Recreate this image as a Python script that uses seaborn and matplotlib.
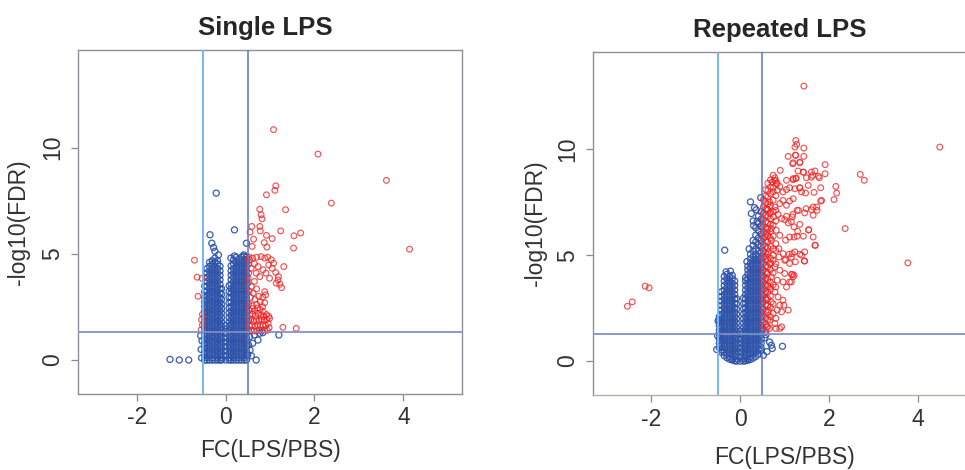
import matplotlib
matplotlib.use("Agg")
import matplotlib.pyplot as plt
import pandas as pd
import seaborn as sns

panel_titles = ["Single LPS", "Repeated LPS"]
x_label = "FC(LPS/PBS)"
y_label = "-log10(FDR)"
x_ticks = [-2, 0, 2, 4]
y_ticks = [0, 5, 10]
fc_cutoffs = [-0.5, 0.5]
fdr_cutoff = 1.3

# ---- Single LPS --------------------------------------------------------
# dense non-significant cloud, one fold-change column at a time
single_blue_cols = [-0.47, -0.42, -0.36, -0.30, -0.24, -0.18, -0.125, -0.09,
                    0.0, 0.08, 0.125, 0.18, 0.24, 0.30, 0.36, 0.42, 0.47]
single_blue_ys = [
    [0.0, 0.2, 0.41, 0.62, 0.83, 1.04, 1.25, 1.46, 1.67, 1.88, 2.09, 2.3, 2.52, 2.74, 2.96, 3.2, 3.48],
    [0.0, 0.11, 0.32, 0.53, 0.74, 0.95, 1.16, 1.37, 1.58, 1.79, 2.0, 2.21, 2.42, 2.63, 2.84, 3.05, 3.26, 3.47, 3.68, 3.89, 4.1, 4.3],
    [0.0, 0.21, 0.42, 0.63, 0.84, 1.05, 1.26, 1.47, 1.68, 1.89, 2.1, 2.31, 2.52, 2.73, 2.94, 3.15, 3.36, 3.57, 3.78, 3.99, 4.2, 4.41, 4.6],
    [0.0, 0.1, 0.31, 0.52, 0.73, 0.94, 1.15, 1.36, 1.57, 1.78, 1.99, 2.2, 2.41, 2.62, 2.83, 3.04, 3.25, 3.46, 3.67, 3.88, 4.09, 4.3, 4.51, 4.68],
    [0.0, 0.21, 0.42, 0.63, 0.84, 1.05, 1.26, 1.47, 1.68, 1.89, 2.1, 2.31, 2.52, 2.73, 2.94, 3.15, 3.36, 3.57, 3.78, 3.99, 4.2, 4.41, 4.62, 4.8],
    [0.0, 0.11, 0.32, 0.53, 0.74, 0.95, 1.16, 1.37, 1.58, 1.79, 2.0, 2.21, 2.42, 2.63, 2.84, 3.05, 3.26, 3.47, 3.68, 3.89, 4.1, 4.31, 4.52, 4.68],
    [0.0, 0.21, 0.42, 0.63, 0.84, 1.05, 1.26, 1.47, 1.68, 1.89, 2.1, 2.31, 2.52, 2.73, 2.94, 3.15, 3.36, 3.57, 3.78, 3.99, 4.2, 4.42],
    [0.0, 0.11, 0.32, 0.53, 0.74, 0.95, 1.16, 1.37, 1.58, 1.79, 2.0, 2.21, 2.42, 2.63, 2.86, 3.1, 3.36],
    [0.0, 0.21, 0.42, 0.63, 0.84, 1.05, 1.26, 1.47, 1.62],
    [0.0, 0.11, 0.32, 0.53, 0.74, 0.95, 1.16, 1.37, 1.58, 1.79, 2.0, 2.22, 2.45, 2.7, 2.96, 3.22, 3.5],
    [0.0, 0.21, 0.42, 0.63, 0.84, 1.05, 1.26, 1.47, 1.68, 1.89, 2.1, 2.31, 2.52, 2.73, 2.94, 3.15, 3.36, 3.57, 3.78, 3.99, 4.2, 4.44],
    [0.0, 0.11, 0.32, 0.53, 0.74, 0.95, 1.16, 1.37, 1.58, 1.79, 2.0, 2.21, 2.42, 2.63, 2.84, 3.05, 3.26, 3.47, 3.68, 3.89, 4.1, 4.31, 4.52, 4.72],
    [0.0, 0.21, 0.42, 0.63, 0.84, 1.05, 1.26, 1.47, 1.68, 1.89, 2.1, 2.31, 2.52, 2.73, 2.94, 3.15, 3.36, 3.57, 3.78, 3.99, 4.2, 4.41, 4.62, 4.84],
    [0.0, 0.11, 0.32, 0.53, 0.74, 0.95, 1.16, 1.37, 1.58, 1.79, 2.0, 2.21, 2.42, 2.63, 2.84, 3.05, 3.26, 3.47, 3.68, 3.89, 4.1, 4.31, 4.52, 4.73],
    [0.0, 0.21, 0.42, 0.63, 0.84, 1.05, 1.26, 1.47, 1.68, 1.89, 2.1, 2.31, 2.52, 2.73, 2.94, 3.15, 3.36, 3.57, 3.78, 3.99, 4.2, 4.41, 4.62, 4.85],
    [0.0, 0.11, 0.32, 0.53, 0.74, 0.95, 1.16, 1.37, 1.58, 1.79, 2.0, 2.21, 2.42, 2.63, 2.84, 3.05, 3.26, 3.47, 3.68, 3.89, 4.1, 4.31, 4.52, 4.73, 4.88],
    [0.0, 0.21, 0.42, 0.63, 0.84, 1.05, 1.26, 1.47, 1.68, 1.89, 2.1, 2.31, 2.52, 2.73, 2.94, 3.15, 3.36, 3.57, 3.78, 3.99, 4.2, 4.41, 4.62, 4.84],
]
# scattered non-significant genes
single_blue_points = [
    (-1.25, 0.03), (-1.04, 0.0), (-0.83, 0.0), (0.69, 0.0), (1.2, 1.18),
    (-0.21, 7.86), (0.2, 6.13), (-0.35, 5.9), (-0.31, 5.5), (-0.27, 5.3),
    (-0.24, 5.12), (-0.16, 4.95), (0.12, 4.8), (0.2, 4.9), (0.41, 4.95),
    (0.47, 5.5), (-0.54, 0.1), (-0.55, 0.5), (-0.53, 0.9), (-0.56, 1.15),
    (0.54, 1.1), (0.65, 1.18), (0.77, 1.26), (0.84, 1.29), (0.73, 0.94),
    (0.61, 0.79), (0.55, 0.47), (0.5, 0.24), (0.58, 0.2), (0.52, 0.7),
]
# significant genes
single_red_points = [
    (1.08, 10.85), (2.08, 9.70), (3.62, 8.46), (2.38, 7.39), (4.14, 5.22),
    (1.13, 8.20), (1.11, 7.99), (0.92, 7.78), (0.77, 7.10), (1.35, 7.08),
    (0.80, 6.84), (0.82, 6.65), (0.59, 6.29), (0.77, 6.29), (0.78, 6.08),
    (0.55, 6.02), (1.24, 6.08), (1.54, 5.85), (1.69, 5.98), (0.92, 5.87),
    (1.05, 5.72), (0.63, 5.69), (0.87, 5.53), (0.93, 5.32), (0.60, 5.35),
    (1.53, 5.27), (-0.70, 4.70), (-0.64, 3.90), (-0.53, 3.85), (-0.62, 3.00),
    (-0.52, 2.15), (-0.54, 1.90), (-0.52, 1.65), (-0.55, 1.42), (1.29, 1.54),
    (1.59, 1.49), (1.31, 4.40), (1.18, 3.77), (1.22, 3.57), (1.26, 3.41),
    (0.88, 3.22), (0.90, 3.07), (0.88, 2.70), (0.83, 2.51),
    (0.54, 4.72), (0.61, 4.80), (0.70, 4.84), (0.80, 4.87), (0.88, 4.80),
    (0.95, 4.84), (1.03, 4.72), (1.08, 4.56), (0.97, 4.48), (1.05, 4.32),
    (1.13, 4.12), (1.19, 3.93), (1.14, 3.62), (0.99, 3.85), (0.91, 4.09),
    (0.84, 4.25), (0.73, 4.40), (0.65, 4.53), (0.58, 4.32), (0.69, 4.09),
    (0.77, 3.93), (0.65, 3.70), (0.58, 3.46), (0.50, 3.62), (0.51, 4.50),
    (0.52, 4.10), (0.51, 3.85), (0.53, 4.85),
    (0.53, 3.25), (0.62, 3.15), (0.70, 3.35), (0.56, 2.95), (0.66, 2.85),
    (0.75, 3.00), (0.52, 2.65), (0.60, 2.55), (0.70, 2.62), (0.78, 2.75),
    (0.84, 2.95),
    (0.52, 1.36), (0.58, 1.40), (0.64, 1.37), (0.70, 1.36), (0.76, 1.41),
    (0.82, 1.38), (0.88, 1.42), (0.94, 1.40), (0.98, 1.52),
    (0.54, 1.60), (0.60, 1.63), (0.66, 1.58), (0.72, 1.66), (0.78, 1.60),
    (0.84, 1.65), (0.90, 1.62), (0.96, 1.72),
    (0.52, 1.86), (0.57, 1.90), (0.63, 1.82), (0.69, 1.89), (0.75, 1.84),
    (0.81, 1.93), (0.87, 1.86), (0.93, 1.91), (0.99, 1.96),
    (0.55, 2.10), (0.61, 2.16), (0.67, 2.08), (0.73, 2.20), (0.80, 2.12),
    (0.86, 2.05), (0.92, 2.14), (0.97, 2.06),
    (0.53, 2.36), (0.60, 2.42), (0.66, 2.32), (0.72, 2.45), (0.78, 2.38),
    (0.85, 2.27),
]

# ---- Repeated LPS ------------------------------------------------------
repeated_blue_cols = [-0.47, -0.42, -0.36, -0.30, -0.24, -0.18, -0.125, -0.085,
                      0.0, 0.075, 0.12, 0.17, 0.23, 0.29, 0.35, 0.41, 0.47]
repeated_blue_ys = [
    [0.62, 0.84, 1.05, 1.26, 1.47, 1.68, 1.89, 2.1],
    [0.42, 0.53, 0.74, 0.95, 1.16, 1.37, 1.58, 1.79, 2.0, 2.21, 2.42, 2.63, 2.84, 3.05, 3.28],
    [0.26, 0.42, 0.63, 0.84, 1.05, 1.26, 1.47, 1.68, 1.89, 2.1, 2.31, 2.52, 2.73, 2.94, 3.15, 3.36, 3.57, 3.78, 4.0],
    [0.16, 0.32, 0.53, 0.74, 0.95, 1.16, 1.37, 1.58, 1.79, 2.0, 2.21, 2.42, 2.63, 2.84, 3.05, 3.26, 3.47, 3.68, 3.89, 4.1],
    [0.09, 0.21, 0.42, 0.63, 0.84, 1.05, 1.26, 1.47, 1.68, 1.89, 2.1, 2.31, 2.52, 2.73, 2.94, 3.15, 3.36, 3.57, 3.78, 4.0],
    [0.05, 0.11, 0.32, 0.53, 0.74, 0.95, 1.16, 1.37, 1.58, 1.79, 2.0, 2.21, 2.42, 2.63, 2.84, 3.05, 3.26, 3.47, 3.68, 3.89, 4.05],
    [0.02, 0.21, 0.42, 0.63, 0.84, 1.05, 1.26, 1.47, 1.68, 1.89, 2.1, 2.31, 2.52, 2.73, 2.94, 3.15, 3.36, 3.57, 3.78],
    [0.0, 0.11, 0.32, 0.53, 0.74, 0.95, 1.16, 1.37, 1.58, 1.79, 2.0, 2.22, 2.45, 2.7, 2.95],
    [0.0, 0.21, 0.42, 0.63, 0.84, 1.05, 1.26, 1.42],
    [0.0, 0.11, 0.32, 0.53, 0.74, 0.95, 1.16, 1.37, 1.58, 1.79, 2.0, 2.23, 2.47, 2.72, 2.98],
    [0.02, 0.21, 0.42, 0.63, 0.84, 1.05, 1.26, 1.47, 1.68, 1.89, 2.1, 2.31, 2.52, 2.73, 2.94, 3.15, 3.36, 3.58, 3.8],
    [0.04, 0.11, 0.32, 0.53, 0.74, 0.95, 1.16, 1.37, 1.58, 1.79, 2.0, 2.21, 2.42, 2.63, 2.84, 3.05, 3.26, 3.47, 3.68, 3.89, 4.1, 4.31, 4.48],
    [0.08, 0.21, 0.42, 0.63, 0.84, 1.05, 1.26, 1.47, 1.68, 1.89, 2.1, 2.31, 2.52, 2.73, 2.94, 3.15, 3.36, 3.57, 3.78, 3.99, 4.2, 4.41, 4.62, 4.83, 5.05],
    [0.14, 0.32, 0.53, 0.74, 0.95, 1.16, 1.37, 1.58, 1.79, 2.0, 2.21, 2.42, 2.63, 2.84, 3.05, 3.26, 3.47, 3.68, 3.89, 4.1, 4.31, 4.52, 4.73, 4.94, 5.2, 5.45, 5.7],
    [0.22, 0.42, 0.63, 0.84, 1.05, 1.26, 1.47, 1.68, 1.89, 2.1, 2.31, 2.52, 2.73, 2.94, 3.15, 3.36, 3.57, 3.78, 3.99, 4.2, 4.41, 4.62, 4.83, 5.04, 5.3, 5.62, 5.95, 6.3],
    [0.33, 0.53, 0.74, 0.95, 1.16, 1.37, 1.58, 1.79, 2.0, 2.21, 2.42, 2.63, 2.84, 3.05, 3.26, 3.47, 3.68, 3.89, 4.1, 4.31, 4.52, 4.73, 4.94, 5.2, 5.5, 5.82, 6.15, 6.5, 6.85],
    [0.5, 0.63, 0.84, 1.05, 1.26, 1.47, 1.68, 1.89, 2.1, 2.31, 2.52, 2.73, 2.94, 3.15, 3.36, 3.57, 3.78, 3.99, 4.2, 4.41, 4.62, 4.83, 5.1, 5.4, 5.7, 6.0, 6.35, 6.7, 7.05],
]
repeated_blue_points = [
    (-0.53, 0.55), (-0.50, 1.90), (-0.51, 1.20), (-0.35, 5.24), (-0.32, 4.22),
    (-0.22, 4.25), (0.23, 7.52), (0.46, 7.72), (0.32, 7.25), (0.36, 7.15),
    (0.25, 6.97), (0.29, 6.62), (0.30, 6.40), (0.38, 6.60), (0.55, 1.10),
    (0.60, 0.45), (0.66, 0.90), (0.70, 0.75), (0.72, 0.60), (0.95, 0.70),
    (0.52, 0.28), (0.58, 1.25), (0.20, 5.30), (0.15, 4.70), (0.12, 3.95),
]
# dense significant band just right of the fold-change cut-off
repeated_red_cols = [0.52, 0.57, 0.62, 0.68, 0.74, 0.80]
repeated_red_ys = [
    [1.55, 1.85, 2.15, 2.48, 2.8, 3.1, 3.42, 3.72, 4.02, 4.3, 4.62, 4.92, 5.2, 5.5, 5.8, 6.08, 6.4, 6.7, 7.0, 7.3, 7.62],
    [1.72, 2.02, 2.34, 2.66, 2.96, 3.28, 3.58, 3.9, 4.2, 4.5, 4.8, 5.1, 5.4, 5.68, 5.98, 6.28, 6.58, 6.88, 7.18, 7.48, 7.8, 8.1],
    [1.62, 1.98, 2.3, 2.62, 2.94, 3.24, 3.56, 3.86, 4.16, 4.46, 4.76, 5.04, 5.34, 5.64, 5.94, 6.24, 6.54, 6.84, 7.14, 7.42, 7.76, 8.06, 8.4],
    [2.1, 2.55, 3.08, 3.4, 3.72, 4.32, 4.62, 4.86, 5.42, 5.8, 6.12, 6.46, 6.72, 7.02, 7.34, 7.9, 8.22, 8.56],
    [2.7, 3.6, 4.16, 4.76, 5.3, 5.9, 6.42, 7.06, 7.6, 8.0, 8.78],
    [2.02, 3.5, 4.6, 5.22, 6.62, 7.12, 7.82, 8.52],
]
repeated_red_points = [
    (1.43, 12.99), (4.49, 10.11), (3.77, 4.64), (2.36, 6.26), (2.70, 8.82),
    (2.79, 8.54), (-2.54, 2.59), (-2.43, 2.80), (-2.14, 3.54), (-2.05, 3.46),
    (1.25, 10.42), (1.27, 10.24), (1.23, 10.11), (1.43, 10.06), (1.08, 9.67),
    (1.25, 9.72), (1.43, 9.67), (1.34, 9.40), (1.18, 9.32), (1.91, 9.28),
    (0.90, 9.01), (1.30, 8.98), (1.42, 8.93), (1.60, 8.93), (1.68, 8.98),
    (1.76, 8.73), (1.91, 8.85), (1.49, 8.66), (1.25, 8.62), (1.19, 8.57),
    (1.04, 8.54), (0.78, 8.66), (0.72, 8.46), (0.83, 8.38), (0.89, 8.25),
    (0.74, 8.19), (0.83, 8.07), (0.96, 7.99), (1.04, 8.10), (1.11, 8.19),
    (1.23, 8.14), (1.34, 8.19), (1.53, 8.30), (1.81, 8.19), (2.15, 8.25),
    (2.17, 7.94), (2.11, 7.63), (1.83, 7.59), (1.72, 7.28), (1.60, 7.15),
    (1.48, 7.20), (1.45, 7.00), (1.28, 7.12), (1.18, 6.93), (1.11, 7.56),
    (1.04, 7.36), (1.19, 7.67), (0.96, 7.59), (0.89, 7.44), (0.78, 7.28),
    (0.66, 7.52), (0.60, 7.20), (0.66, 6.97), (0.75, 6.81), (0.85, 6.93),
    (0.93, 6.73), (1.04, 6.84), (1.08, 6.53), (1.21, 6.34), (1.34, 6.46),
    (1.54, 6.21), (1.42, 5.90), (1.28, 5.90), (1.69, 5.47), (1.11, 5.86),
    (1.02, 5.71), (0.89, 5.94), (0.81, 6.18), (0.70, 6.26), (0.60, 6.10),
    (0.55, 5.86), (0.70, 5.71), (0.80, 5.55), (0.87, 5.31), (0.96, 5.08),
    (1.10, 5.05), (1.34, 5.05), (1.45, 4.73), (1.24, 4.69), (1.11, 4.61),
    (1.02, 4.80), (0.87, 4.92), (0.74, 5.00), (0.63, 5.16), (0.57, 4.92),
    (0.66, 4.61), (0.78, 4.45), (0.89, 4.29), (1.00, 4.14), (1.15, 4.10),
    (1.19, 3.98), (1.11, 3.74), (0.96, 3.74), (0.83, 3.82), (0.70, 3.98),
    (0.60, 4.14), (0.55, 3.82), (0.66, 3.51), (0.78, 3.27), (0.85, 3.03),
    (0.96, 2.88), (0.89, 2.64), (0.70, 2.80), (0.59, 2.88), (0.55, 3.19),
    (0.63, 2.41), (0.74, 2.25), (0.83, 2.41), (0.98, 2.64), (0.66, 1.93),
    (0.78, 1.78), (0.59, 1.62), (0.66, 1.54), (0.80, 1.54), (0.89, 1.54),
    (0.93, 1.62), (0.57, 1.38), (1.04, 3.50), (0.93, 2.33), (1.08, 2.41),
    (1.38, 5.00), (1.68, 5.47), (1.64, 5.86), (1.66, 7.97), (1.47, 7.94),
    (1.38, 7.99), (1.34, 8.18), (1.63, 8.77), (1.60, 8.69), (1.78, 8.66),
    (1.81, 7.56), (1.24, 9.73), (1.19, 9.37), (1.34, 9.37), (1.42, 8.92),
    (0.77, 8.54), (0.81, 8.38), (1.19, 8.62), (1.26, 8.65), (1.54, 6.19),
    (1.29, 6.13), (1.21, 5.86), (1.64, 7.28), (1.73, 7.12), (1.64, 6.89),
    (1.31, 7.12), (1.17, 6.81), (1.00, 6.68), (1.15, 6.59), (1.45, 5.16),
    (1.17, 5.08), (1.23, 5.16), (1.00, 4.76), (1.44, 4.73), (1.15, 4.92),
    (1.21, 4.06), (1.17, 4.09), (1.15, 3.74),
]

BLUE = "#2d52a8"
RED = "#ee2222"


def expand_columns(cols, ys):
    xs = [c for c, col in zip(cols, ys) for _ in col]
    vals = [v for col in ys for v in col]
    return xs, vals


def build_frame(cols, ys, blue_pts, red_cols, red_ys, red_pts):
    bx, by = expand_columns(cols, ys)
    bx += [p[0] for p in blue_pts]
    by += [p[1] for p in blue_pts]
    rx, ry = expand_columns(red_cols, red_ys)
    rx += [p[0] for p in red_pts]
    ry += [p[1] for p in red_pts]
    return pd.DataFrame({
        "fc": bx + rx,
        "fdr": by + ry,
        "status": ["ns"] * len(bx) + ["up"] * len(rx),
    })


frames = [
    build_frame(single_blue_cols, single_blue_ys, single_blue_points,
                [], [], single_red_points),
    build_frame(repeated_blue_cols, repeated_blue_ys, repeated_blue_points,
                repeated_red_cols, repeated_red_ys, repeated_red_points),
]

sns.set_theme(style="ticks")
plt.rcParams["font.family"] = ["Liberation Sans", "DejaVu Sans"]

fig = plt.figure(figsize=(9.65, 4.70), dpi=100)
axes = [
    fig.add_axes([78 / 965, 1 - 394 / 470, 384 / 965, 344 / 470]),
    fig.add_axes([592.7 / 965, 1 - 395 / 470, 384 / 965, 343 / 470]),
]
xlabel_pads = [6.5, 11.5]
ylabel_pads = [8, 6]

for ax, df, title, xlp, ylp in zip(axes, frames, panel_titles, xlabel_pads, ylabel_pads):
    for status, color, alpha, size, lw in [("ns", BLUE, 0.9, 19, 0.95),
                                           ("up", RED, 0.78, 17, 0.85)]:
        sub = df[df["status"] == status]
        sns.scatterplot(data=sub, x="fc", y="fdr", ax=ax, color=color,
                        facecolor="none", edgecolor=color, s=size,
                        linewidth=lw, alpha=alpha, legend=False, zorder=3)
    ax.axvline(fc_cutoffs[0], color="#72b9f0", lw=1.4, zorder=4)
    ax.axvline(fc_cutoffs[1], color="#5876c6", lw=1.1, zorder=4)
    ax.axhline(fdr_cutoff, color="#7d8fcc", lw=1.4, alpha=0.9, zorder=4)

    ax.set_xlim(-3.32, 5.32)
    ax.set_ylim(-1.6, 14.6)
    ax.set_xticks(x_ticks)
    ax.set_yticks(y_ticks)
    ax.set_xticklabels([str(t) for t in x_ticks])
    ax.set_yticklabels([str(t) for t in y_ticks], rotation=90, va="center")
    ax.tick_params(axis="both", direction="out", length=5, width=0.9,
                   color="#8a8a8a", labelsize=16.5, labelcolor="#333333")
    ax.tick_params(axis="x", pad=4)
    ax.tick_params(axis="y", pad=5)
    for side in ["top", "right", "left", "bottom"]:
        ax.spines[side].set_visible(True)
        ax.spines[side].set_color("#8f8f9c")
        ax.spines[side].set_linewidth(1.0)
    ax.set_xlabel(x_label, fontsize=16.5, color="#333333", labelpad=xlp)
    ax.set_ylabel(y_label, fontsize=16.5, color="#333333", labelpad=ylp)
    ax.set_title(title, fontsize=18.5, fontweight="bold", color="#262626",
                 pad=11, x=0.487)

axes[1].spines["bottom"].set_color("#a9b7a2")

fig.savefig("out.png", dpi=100)
